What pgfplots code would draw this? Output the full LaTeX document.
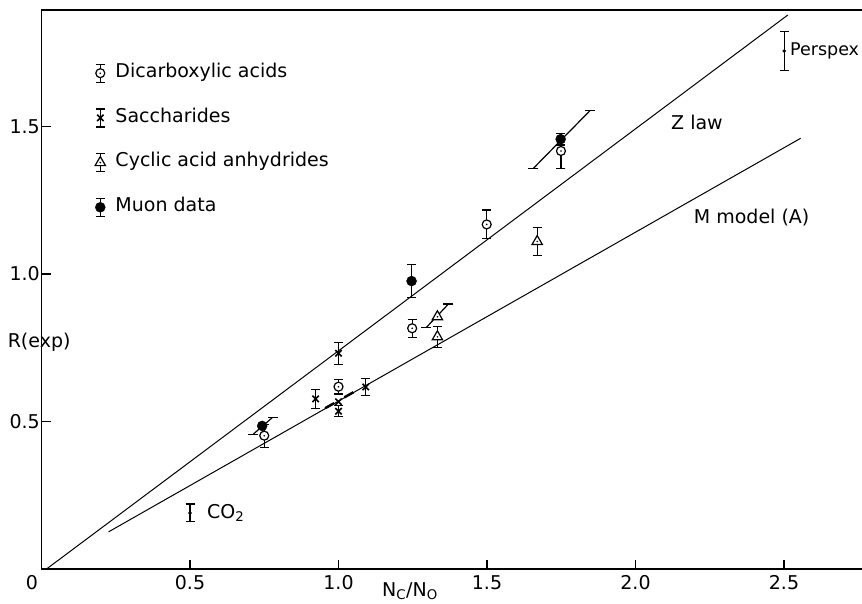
\documentclass[border=0pt]{standalone}
\usepackage{pgfplots}
\pgfplotsset{compat=1.18}
\usepackage{fontspec}
\setmainfont{DejaVu Sans}
\pgfdeclareplotmark{odot}{%
  \pgfpathcircle{\pgfpointorigin}{\pgfplotmarksize}\pgfusepathqfillstroke
  \pgfscope\pgfsetfillcolor{black}\pgfpathcircle{\pgfpointorigin}{0.9pt}\pgfusepathqfill\endpgfscope}
\pgfdeclareplotmark{tridot}{%
  \pgfpathmoveto{\pgfqpoint{0pt}{\pgfplotmarksize}}%
  \pgfpathlineto{\pgfqpoint{-0.866\pgfplotmarksize}{-0.5\pgfplotmarksize}}%
  \pgfpathlineto{\pgfqpoint{0.866\pgfplotmarksize}{-0.5\pgfplotmarksize}}%
  \pgfpathclose\pgfusepathqfillstroke
  \pgfscope\pgfsetfillcolor{black}\pgfpathcircle{\pgfpointorigin}{0.9pt}\pgfusepathqfill\endpgfscope}
\pgfplotsset{
  errlegend/.style={legend image code/.code={
    \draw[line width=1.2pt,solid] (0pt,-9pt)--(0pt,9pt) (-4.5pt,-9pt)--(4.5pt,-9pt) (-4.5pt,9pt)--(4.5pt,9pt);
    \draw[mark repeat=1,mark phase=1,##1] plot coordinates {(0pt,0pt)};
  }},
  ebar/.style={error bars/.cd, y dir=both, y explicit,
    error bar style={line width=1.2pt, black},
    error mark options={rotate=90, mark size=4.5pt, line width=1.2pt, black}},
}
\begin{document}
\fontsize{19}{22}\selectfont
\begin{tikzpicture}
\begin{axis}[
  x=297pt, y=295pt,
  xmin=0, xmax=2.8, ymin=0, ymax=1.895,
  axis line style={line width=1.1pt},
  xtick={0.5,1,1.5,2,2.5}, xticklabels={0.5,1.0,1.5,2.0,2.5},
  ytick={0.5,1,1.5}, yticklabels={0.5,1.0,1.5},
  xtick pos=bottom, ytick pos=left, tick align=inside,
  major tick length=9pt,
  tick style={line width=1.1pt, black},
  /pgf/number format/assume math mode=true,
  yticklabel style={inner xsep=1.5pt},
  clip mode=individual,
  legend cell align=left,
  legend style={at={(axis cs:0.1798,1.7198)}, anchor=north west, draw=none, fill=none,
    inner sep=0pt, row sep=22pt, /tikz/column sep=8pt,
    nodes={text height=13.7pt, text depth=5pt}},
]
% model lines
\addplot[forget plot, line width=1pt] coordinates {(0.017,0) (2.513,1.878)};
\addplot[forget plot, line width=1pt] coordinates {(0.226,0.126) (2.556,1.460)};
% slanted error bars
\addplot[forget plot, line width=1.2pt, mark=-, mark size=5pt] coordinates {(0.713,0.457) (0.778,0.514)};
\addplot[forget plot, line width=1.2pt, mark=-, mark size=5pt] coordinates {(1.295,0.818) (1.370,0.898)};
\addplot[forget plot, line width=1.2pt, mark=-, mark size=5pt] coordinates {(1.656,1.358) (1.847,1.554)};
\addplot[forget plot, line width=2.5pt] coordinates {(0.955,0.545) (0.985,0.562)};
\addplot[forget plot, line width=2.5pt] coordinates {(1.020,0.582) (1.050,0.599)};
% Dicarboxylic acids
\addplot[errlegend, only marks, mark=odot, mark size=4.5pt, mark options={fill=white, line width=1.2pt}, ebar]
  coordinates {(0.75,0.452) +- (0,0.039) (1.0,0.618) +- (0,0.025) (1.248,0.816) +- (0,0.030)
               (1.499,1.168) +- (0,0.049) (1.749,1.417) +- (0,0.059)};
\addlegendentry{Dicarboxylic acids}
% Saccharides
\addplot[errlegend, only marks, mark=x, mark size=4.5pt, mark options={line width=1.6pt}, ebar]
  coordinates {(0.923,0.577) +- (0,0.032) (1.0,0.731) +- (0,0.038) (1.0,0.535) +- (0,0.018)
               (1.092,0.617) +- (0,0.030)};
\addlegendentry{Saccharides}
\addplot[forget plot, only marks, mark=x, mark size=4.5pt, mark options={line width=1.6pt}]
  coordinates {(1.0,0.567)};
% Cyclic acid anhydrides
\addplot[errlegend, only marks, mark=tridot, mark size=6pt, mark options={fill=white, line width=1.2pt}, ebar]
  coordinates {(1.333,0.787) +- (0,0.035) (1.669,1.110) +- (0,0.048)};
\addlegendentry{Cyclic acid anhydrides}
\addplot[forget plot, only marks, mark=tridot, mark size=6pt, mark options={fill=white, line width=1.2pt}]
  coordinates {(1.333,0.855)};
% Muon data
\addplot[errlegend, only marks, mark=*, mark size=5pt, mark options={fill=black}, ebar]
  coordinates {(1.246,0.976) +- (0,0.057) (1.748,1.457) +- (0,0.020)};
\addlegendentry{Muon data}
\addplot[forget plot, only marks, mark=*, mark size=5pt, mark options={fill=black}]
  coordinates {(0.743,0.485)};
% Perspex and CO2
\addplot[forget plot, only marks, mark=*, mark size=1.6pt, ebar]
  coordinates {(2.501,1.756) +- (0,0.067) (0.5,0.190) +- (0,0.030)};
% labels
\node[anchor=center] at (axis cs:2.207,1.515) {Z law};
\node[anchor=center] at (axis cs:2.391,1.193) {M model (A)};
\node[anchor=west, inner sep=0pt, font=\fontsize{17.5}{20}\selectfont] at (axis cs:2.520,1.756) {Perspex};
\node[anchor=west, inner sep=0pt] at (axis cs:0.557,0.190) {CO\textsubscript{2}};
\node[anchor=north] at (axis cs:-0.032,0) {0};
\node[anchor=center] at (axis cs:-0.008,0.77) {R(exp)};
\node[anchor=north west, inner sep=0pt] at (axis cs:1.1465,-0.044) {N\textsubscript{C}/N\textsubscript{O}};
\end{axis}
\pgfresetboundingbox
\useasboundingbox (-41.5pt,-35pt) rectangle (820.5pt,569pt);
\end{tikzpicture}
\end{document}
